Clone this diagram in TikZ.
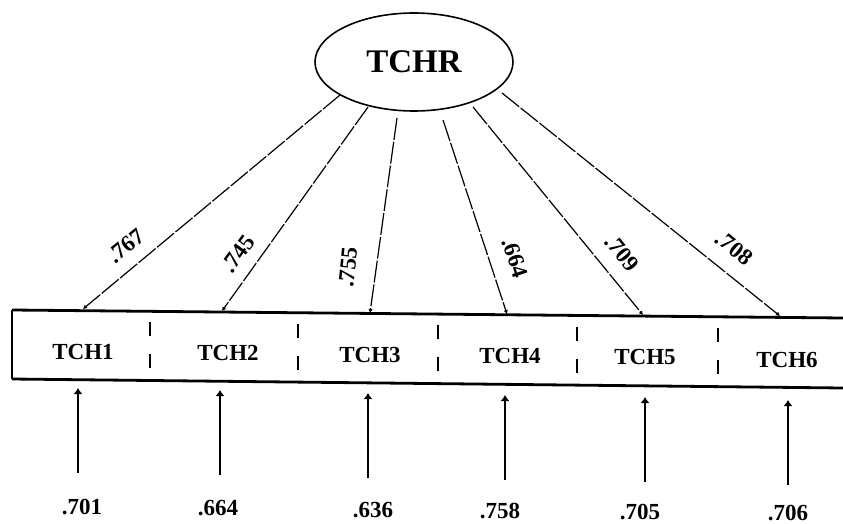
\documentclass[tikz,border=0pt]{standalone}
\usepackage{fontspec}
\setmainfont{Liberation Serif}
\usetikzlibrary{shapes.geometric,arrows.meta}
\begin{document}
\begin{tikzpicture}[x=1pt,y=-1pt,
  lbl/.style={font=\fontsize{23}{23}\selectfont\bfseries, inner sep=0pt},
  load/.style={line width=1.2pt, dash pattern=on 22pt off 2pt, -{Latex[length=4pt,width=4.5pt]}},
  err/.style={line width=1.2pt, -{Latex[length=6pt,width=9pt]}},
  divider/.style={line width=1.4pt, dash pattern=on 14pt off 18pt},
  frame/.style={line width=2.8pt}]
\useasboundingbox (0,0) rectangle (843,524);

% latent factor
\node[draw, ellipse, line width=1.6pt, minimum width=198pt, minimum height=98pt,
      inner sep=0pt, font=\fontsize{33}{33}\selectfont\bfseries] (tchr) at (414,62) {TCHR};

% strip holding the six indicators
\coordinate (tl) at (12,310); \coordinate (tr) at (843,318);
\coordinate (bl) at (12,379); \coordinate (br) at (843,388);
\draw[frame] (tr) -- (tl);
\draw[line width=1.5pt] (tl) -- (bl);
\draw[frame] (bl) -- (br);

\draw[divider] (150,322) -- (150,370);
\draw[divider] (298,324) -- (298,372);
\draw[divider] (438,325) -- (438,373);
\draw[divider] (577,327) -- (577,375);
\draw[divider] (718,328) -- (718,376);

\node[lbl] (tch1) at (83,352) {TCH1};
\node[lbl] (tch2) at (228,353) {TCH2};
\node[lbl] (tch3) at (370,355) {TCH3};
\node[lbl] (tch4) at (510,356) {TCH4};
\node[lbl] (tch5) at (645,357) {TCH5};
\node[lbl] (tch6) at (787,360) {TCH6};

% loadings
\coordinate (s1) at (340,95);  \coordinate (t1) at (83,309);
\coordinate (s2) at (368,107); \coordinate (t2) at (222,311);
\coordinate (s3) at (397,118); \coordinate (t3) at (370,313);
\coordinate (s4) at (443,120); \coordinate (t4) at (507,314);
\coordinate (s5) at (473,107); \coordinate (t5) at (643,315);
\coordinate (s6) at (502,93);  \coordinate (t6) at (780,316);
\draw[load] (s1) -- (t1);
\draw[load] (s2) -- (t2);
\draw[load] (s3) -- (t3);
\draw[load] (s4) -- (t4);
\draw[load] (s5) -- (t5);
\draw[load] (s6) -- (t6);

\node[lbl, rotate=39]  (l1) at (126,246) {.767};
\node[lbl, rotate=54]  (l2) at (238,254) {.745};
\node[lbl, rotate=84]  (l3) at (348,267) {.755};
\node[lbl, rotate=-72] (l4) at (515,258) {.664};
\node[lbl, rotate=-51] (l5) at (622,253) {.709};
\node[lbl, rotate=-39] (l6) at (734,248) {.708};

% error terms
\coordinate (u1) at (78,473);  \coordinate (v1) at (78,388);
\coordinate (u2) at (220,475); \coordinate (v2) at (220,390);
\coordinate (u3) at (368,478); \coordinate (v3) at (368,393);
\coordinate (u4) at (505,480); \coordinate (v4) at (505,395);
\coordinate (u5) at (645,482); \coordinate (v5) at (645,397);
\coordinate (u6) at (788,485); \coordinate (v6) at (788,400);
\draw[err] (u1) -- (v1);
\draw[err] (u2) -- (v2);
\draw[err] (u3) -- (v3);
\draw[err] (u4) -- (v4);
\draw[err] (u5) -- (v5);
\draw[err] (u6) -- (v6);

\node[lbl] (e1) at (82,507)  {.701};
\node[lbl] (e2) at (218,508) {.664};
\node[lbl] (e3) at (373,510) {.636};
\node[lbl] (e4) at (500,511) {.758};
\node[lbl] (e5) at (640,512) {.705};
\node[lbl] (e6) at (788,513) {.706};
\end{tikzpicture}
\end{document}
